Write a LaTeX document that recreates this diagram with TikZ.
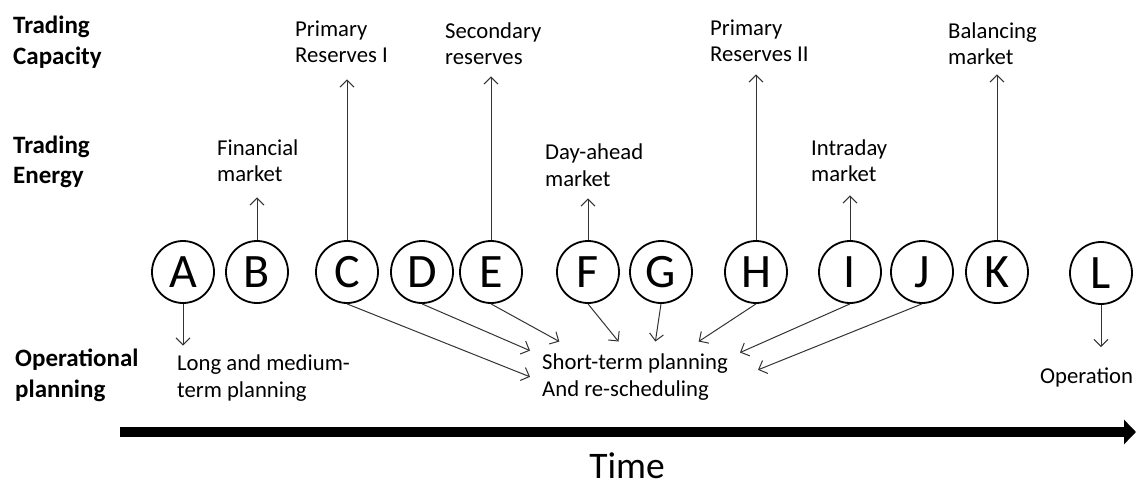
\documentclass[tikz,border=0pt]{standalone}
\usepackage{fontspec}
\setmainfont{Carlito}
\usetikzlibrary{arrows.meta}

\begin{document}
\begin{tikzpicture}[x=1pt,y=-1pt,
 event/.style={draw=black,circle,line width=1.8pt,minimum size=62pt,inner sep=0pt,font=\fontsize{48}{48}\selectfont},
 market/.style={anchor=base west,inner sep=0pt,align=left,font=\fontsize{22.7}{26.5}\selectfont},
 rowname/.style={anchor=base west,inner sep=0pt,align=left,font=\fontsize{25}{31}\selectfont\bfseries},
 link/.style={-{Straight Barb[length=7pt,width=14pt]},black!80,line width=1pt},
 timeline/.style={-{Triangle[length=12pt,width=24pt]},black,line width=10pt}]
\useasboundingbox (0,0) rectangle (1144,484);
% row names (placed at the baseline of their last line)
\node[rowname] (cap) at (13,65) {Trading\\Capacity};
\node[rowname] (energy) at (13,184) {Trading\\Energy};
\node[rowname] (oper) at (15,397) {Operational\\planning};
% events
\node[event] (A) at (183,272) {A};
\node[event] (B) at (257,272) {B};
\node[event] (C) at (347,272) {C};
\node[event] (D) at (422,272) {D};
\node[event] (E) at (491,272) {E};
\node[event] (F) at (588,272) {F};
\node[event] (G) at (661,272) {G};
\node[event] (H) at (756,272) {H};
\node[event] (I) at (850,272) {I};
\node[event] (J) at (922,272) {J};
\node[event] (K) at (997,272) {K};
\node[event] (L) at (1101,273) {L};
% markets
\node[market] (fin) at (217,182) {Financial\\market};
\node[market] (pri1) at (295,63) {Primary\\Reserves I};
\node[market] (sec) at (445,65) {Secondary\\reserves};
\node[market] (dam) at (545,186) {Day-ahead\\market};
\node[market] (pri2) at (710,62) {Primary\\Reserves II};
\node[market] (intra) at (811,182) {Intraday\\market};
\node[market] (bal) at (948,65) {Balancing\\market};
% planning
\node[market] (long) at (177,397) {Long and medium-\\term planning};
\node[market,inner sep=12pt] (short) at (530,396) {Short-term planning\\And re-scheduling};
\node[market] (op) at (1040,383) {Operation};
% time line
\coordinate (t0) at (120,432);
\coordinate (t1) at (1136,432);
\draw[timeline] (t0) -- (t1);
\node[anchor=base,inner sep=0pt,font=\fontsize{37.5}{40}\selectfont] (time) at (627,478) {Time};
% arrows
\draw[link,shorten >=15pt] (B.north) -- (B.north |- fin.south);
\draw[link,shorten >=16pt] (C.north) -- (C.north |- pri1.south);
\draw[link,shorten >=11pt] (E.north) -- (E.north |- sec.south);
\draw[link,shorten >=12pt] (F.north) -- (F.north |- dam.south);
\draw[link,shorten >=12pt] (H.north) -- (H.north |- pri2.south);
\draw[link,shorten >=13pt] (I.north) -- (I.north |- intra.south);
\draw[link,shorten >=9pt] (K.north) -- (K.north |- bal.south);
\draw[link,shorten >=9pt] (A.south) -- (A.south |- long.north);
\draw[link,shorten >=20pt] (L.south) -- (L.south |- op.north);
\draw[link] (C.south) -- (short.west);
\draw[link] (D.south) -- (short.166);
\draw[link] (E.south) -- (short.155);
\draw[link] (F.south) -- (short.115);
\draw[link] (G.south) -- (short.60);
\draw[link] (H.south) -- (short.29);
\draw[link] (I.south) -- (short.13);
\draw[link] (J.south) -- ([xshift=18pt,yshift=7pt]short.east);
\end{tikzpicture}
\end{document}
